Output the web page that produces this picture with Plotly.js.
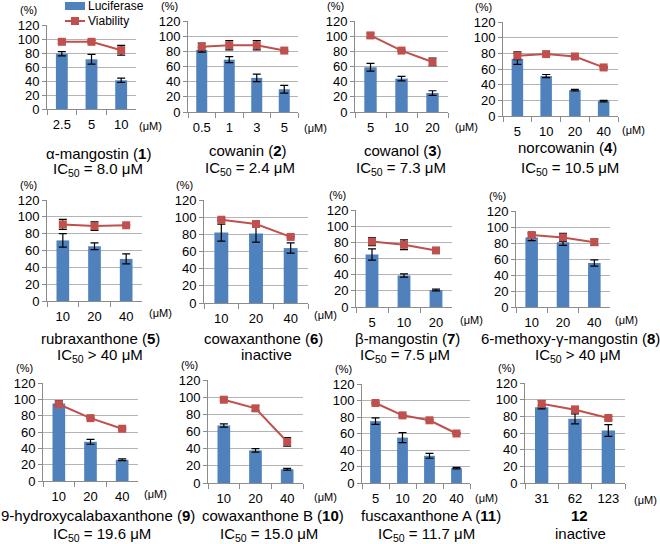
<!DOCTYPE html>
<html><head><meta charset="utf-8">
<script src="https://cdn.plot.ly/plotly-3.0.1.min.js"></script>
<style>html,body{margin:0;padding:0;background:#fff}#chart{width:660px;height:544px}</style>
</head><body><div id="chart"></div>
<script>
// ---- data ----
const compoundNames = ["α-mangostin (<b>1</b>)","cowanin (<b>2</b>)","cowanol (<b>3</b>)","norcowanin (<b>4</b>)",
  "rubraxanthone (<b>5</b>)","cowaxanthone (<b>6</b>)","β-mangostin (<b>7</b>)","6-methoxy-γ-mangostin (<b>8</b>)",
  "9-hydroxycalabaxanthone (<b>9</b>)","cowaxanthone B (<b>10</b>)","fuscaxanthone A (<b>11</b>)","<b>12</b>"];
const ic50Labels = ["IC<sub>50</sub> = 8.0 μM","IC<sub>50</sub> = 2.4 μM","IC<sub>50</sub> = 7.3 μM","IC<sub>50</sub> = 10.5 μM",
  "IC<sub>50</sub> > 40 μM","inactive","IC<sub>50</sub> = 7.5 μM","IC<sub>50</sub> > 40 μM",
  "IC<sub>50</sub> = 19.6 μM","IC<sub>50</sub> = 15.0 μM","IC<sub>50</sub> = 11.7 μM","inactive"];
const doses = [["2.5","5","10"],["0.5","1","3","5"],["5","10","20"],["5","10","20","40"],
  ["10","20","40"],["10","20","40"],["5","10","20"],["10","20","40"],
  ["10","20","40"],["10","20","40"],["5","10","20","40"],["31","62","123"]];
const luciferase = [[79,71,41],[82,69,45,30],[59,44,25],[73,51,33,19],
  [72,65,50],[82,81,64],[65,39,21],[87,81,55],
  [95,48,26],[67,38,16],[75,55,33,18],[91,77,63]];
const luciferaseErr = [[3,7,3],[3,4,5,5],[5,3,3],[7,2,1,1],
  [8,4,6],[10,10,6],[7,2,1],[4,4,4],
  [3,3,1],[2,2,1],[4,6,3,1],[2,6,7]];
const viability = [[96,96,84],[86,88,88,81],[101,81,66],[77,79,76,62],
  [91,89,90],[97,92,77],[81,77,70],[90,87,81],
  [94,77,64],[97,87,48],[97,82,76,60],[95,88,78]];
const viabilityErr = [[2,2,7],[5,6,6,1],[3,1,5],[5,1,1,1],
  [6,5,1],[1,1,1],[5,6,1],[3,5,4],
  [1,1,1],[1,3,5],[1,1,1,1],[4,4,2]];

// ---- layout geometry (pixels) ----
const W = 660, H = 544;
const geom = [[47,136,25,109],[188,298,21,112],[355,448,21,112],[503,618,22,116],
  [47,142,200,301],[204,308,200,303],[356,452,210,307],[516,610,211,307],
  [43,138,383,481],[208,303,380,483],[362,470,384,483],[525,625,383,483]];
// [nameX,nameY, ic50X, ic50Y, umX, umY]
const labelPos = [[98,153,98,169,137,126],[248,150,250,168,302,128],[403,150,401,168,453,127],[567,148,570,168,620,130],
  [100,338,100,355,147,313],[263,338,266,354,312,315],[407,338,405,355,458,320],[570,338,578,355,613,320],
  [98,515,102,534,142,494],[273,515,269,534,312,497],[431,515,426,534,473,498],[579,515,580,533,632,500]];
const fx = p => p / W, fy = p => 1 - p / H;
const FONT = "Liberation Sans, Arial, sans-serif";
const BLUE = "#4f81bd", RED = "#c0504d";

const traces = [], annotations = [], shapes = [];
const layout = {
  width: W, height: H, margin: {l:0,r:0,t:0,b:0}, showlegend: false,
  paper_bgcolor: "#fff", plot_bgcolor: "#fff", bargap: 0.6,
  font: {family: FONT, color: "#000", size: 12}
};
for (let i = 0; i < 12; i++) {
  const s = i === 0 ? "" : String(i + 1);
  const [x0,x1,yt,yb] = geom[i];
  layout["xaxis" + s] = {
    domain: [fx(x0), fx(x1)], anchor: "y" + s, type: "category",
    showline: true, linecolor: "#8c8c8c", ticks: "outside", tickson: "boundaries",
    ticklen: 5, tickcolor: "#8c8c8c", tickfont: {size: 13, family: FONT},
    ticklabelstandoff: 3, showgrid: false, fixedrange: true
  };
  layout["yaxis" + s] = {
    domain: [fy(yb), fy(yt)], anchor: "x" + s, range: [0, 120], dtick: 20,
    showline: true, linecolor: "#8c8c8c", ticks: "outside", ticklen: 4, tickcolor: "#8c8c8c",
    showgrid: true, gridcolor: "#b4b4b4", gridwidth: 1, zeroline: false,
    tickfont: {size: 13, family: FONT}, fixedrange: true
  };
  traces.push({
    type: "bar", name: "Luciferase", x: doses[i], y: luciferase[i], xaxis: "x" + s, yaxis: "y" + s,
    marker: {color: BLUE},
    error_y: {type: "data", array: luciferaseErr[i], color: "#000", thickness: 1.2, width: 4}
  });
  traces.push({
    type: "scatter", mode: "lines+markers", name: "Viability", x: doses[i], y: viability[i],
    xaxis: "x" + s, yaxis: "y" + s,
    line: {color: RED, width: 2}, marker: {symbol: "square", size: 8, color: RED},
    error_y: {type: "data", array: viabilityErr[i], color: "#000", thickness: 1.2, width: 4}
  });
  const lp = labelPos[i];
  annotations.push({xref:"paper", yref:"paper", x: fx(x0 - 19), y: fy(yt - 15), text: "(%)",
    showarrow:false, font:{size:11}, xanchor:"center", yanchor:"middle"});
  annotations.push({xref:"paper", yref:"paper", x: fx(lp[4]), y: fy(lp[5]), text: "(μM)",
    showarrow:false, font:{size:11}, xanchor:"left", yanchor:"middle"});
  annotations.push({xref:"paper", yref:"paper", x: fx(lp[0]), y: fy(lp[1]), text: compoundNames[i],
    showarrow:false, font:{size:15}, xanchor:"center", yanchor:"middle"});
  annotations.push({xref:"paper", yref:"paper", x: fx(lp[2]), y: fy(lp[3]), text: ic50Labels[i],
    showarrow:false, font:{size:15}, xanchor:"center", yanchor:"middle"});
}
// manual legend
shapes.push({type:"rect", xref:"paper", yref:"paper", x0: fx(65), x1: fx(85), y0: fy(10), y1: fy(2), fillcolor: BLUE, line:{width:0}});
shapes.push({type:"line", xref:"paper", yref:"paper", x0: fx(65), x1: fx(85), y0: fy(21), y1: fy(21), line:{color: RED, width:2}});
shapes.push({type:"rect", xref:"paper", yref:"paper", x0: fx(71), x1: fx(79), y0: fy(25), y1: fy(17), fillcolor: RED, line:{width:0}});
annotations.push({xref:"paper", yref:"paper", x: fx(86), y: fy(6), text:"Luciferase", showarrow:false, font:{size:12}, xanchor:"left", yanchor:"middle"});
annotations.push({xref:"paper", yref:"paper", x: fx(86), y: fy(21), text:"Viability", showarrow:false, font:{size:12}, xanchor:"left", yanchor:"middle"});
layout.annotations = annotations;
layout.shapes = shapes;
Plotly.newPlot("chart", traces, layout, {staticPlot: true, displayModeBar: false});
</script></body></html>
